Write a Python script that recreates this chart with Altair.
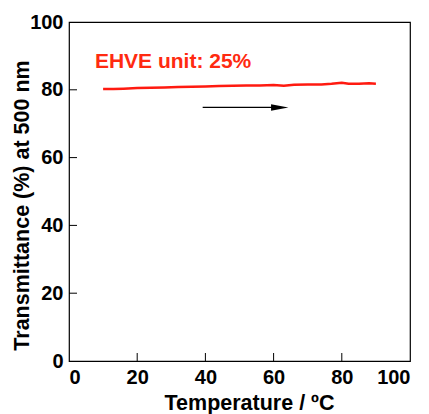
import pandas as pd
import altair as alt

# transmittance at 500 nm vs temperature (heating run)
temps = [10, 13, 16, 20, 24, 28, 32, 36, 40, 44, 48, 52, 56, 60, 63, 66, 70, 74, 77, 80, 82, 85, 88, 90]
trans = [80.2, 80.2, 80.3, 80.5, 80.6, 80.7, 80.8, 80.9, 81.0, 81.1, 81.2, 81.3, 81.3, 81.4, 81.2, 81.5,
         81.6, 81.6, 81.8, 82.1, 81.8, 81.8, 81.9, 81.8]

arrow_x = [39.2, 61.0]
arrow_y = [74.8, 74.8]
head_x = [61.8]
head_y = [74.8]

label_text = ["EHVE unit: 25%"]
label_x = [7.6]
label_y = [86.3]

tick_vals = [20, 40, 60, 80]
axis_vals = [0, 20, 40, 60, 80, 100]

FONT = "Liberation Sans"
W, H = 341, 339

df = pd.DataFrame({"t": temps, "tr": trans})
arrow = pd.DataFrame({"x": arrow_x, "y": arrow_y})
head = pd.DataFrame({"x": head_x, "y": head_y})
lab = pd.DataFrame({"x": label_x, "y": label_y, "s": label_text})
ticks = pd.DataFrame({"v": tick_vals})

xs = alt.Scale(domain=[0, 100], nice=False)
ys = alt.Scale(domain=[0, 100], nice=False)

x_enc = alt.X("t:Q", scale=xs, axis=alt.Axis(
    title="Temperature / ºC", values=axis_vals, grid=False, tickSize=0,
    labelPadding=6, domain=False,
    titleX=180, titleY=48, titleBaseline="alphabetic", titleAlign="center"))
y_enc = alt.Y("tr:Q", scale=ys, axis=alt.Axis(
    title="Transmittance (%) at 500 nm", values=axis_vals, grid=False, tickSize=0,
    labelPadding=6, domain=False,
    titleX=-41, titleY=183, titleAngle=270, titleBaseline="alphabetic", titleAlign="center"))

line = alt.Chart(df).mark_line(color="#ff1a10", strokeWidth=2.5).encode(x=x_enc, y=y_enc)

arrow_line = alt.Chart(arrow).mark_line(color="black", strokeWidth=1.3).encode(
    x=alt.X("x:Q", scale=xs), y=alt.Y("y:Q", scale=ys))

arrow_head = alt.Chart(head).mark_point(
    shape="M-1,-0.38L1,0L-1,0.38Z", size=300, filled=True, color="black", opacity=1
).encode(x=alt.X("x:Q", scale=xs), y=alt.Y("y:Q", scale=ys))

text = alt.Chart(lab).mark_text(
    align="left", baseline="alphabetic", font=FONT, fontSize=21, fontWeight="bold", color="#ff2a10"
).encode(x=alt.X("x:Q", scale=xs), y=alt.Y("y:Q", scale=ys), text="s:N")

x_ticks = alt.Chart(ticks).mark_rule(color="black", strokeWidth=1).encode(
    x=alt.X("v:Q", scale=xs), y=alt.value(H), y2=alt.value(H - 8))
y_ticks = alt.Chart(ticks).mark_rule(color="black", strokeWidth=1).encode(
    y=alt.Y("v:Q", scale=ys), x=alt.value(0), x2=alt.value(8))

chart = alt.layer(line, arrow_line, arrow_head, text, x_ticks, y_ticks).properties(
    width=W, height=H,
    autosize=alt.AutoSizeParams(type="none"),
    padding={"left": 61, "top": 14, "right": 11, "bottom": 56},
).configure_view(
    stroke="black", strokeWidth=1.2
).configure_axis(
    labelFont=FONT, titleFont=FONT, labelFontSize=20, titleFontSize=21.5,
    labelFontWeight="bold", titleFontWeight="bold", labelColor="black", titleColor="black"
)

chart.save("out.html", embed_options={"renderer": "svg", "actions": False})
